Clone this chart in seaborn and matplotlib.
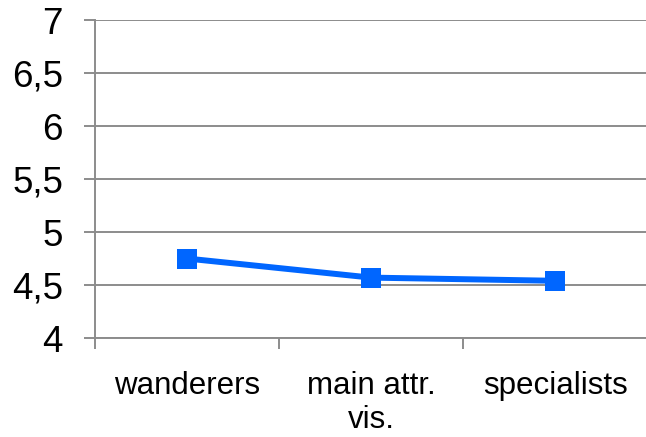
import matplotlib
matplotlib.use("Agg")
import matplotlib.pyplot as plt
import seaborn as sns
import pandas as pd

# --------- dados
groups = ["wanderers", "main attr.\nvis.", "specialists"]
scores = [4.75, 4.57, 4.54]
y_ticks = [4, 4.5, 5, 5.5, 6, 6.5, 7]
y_labels = ["4", "4,5", "5", "5,5", "6", "6,5", "7"]

df = pd.DataFrame({"group": groups, "score": scores})

sns.set_style("white")
plt.rcParams["font.family"] = ["Liberation Sans", "DejaVu Sans"]
plt.rcParams["text.color"] = "black"
plt.rcParams["xtick.color"] = "black"
plt.rcParams["ytick.color"] = "black"

grid_col = "#8c8c8c"
fig = plt.figure(figsize=(6.46, 4.37), dpi=100)
ax = fig.add_axes([0.147, 0.2265, 0.855, 0.7275])

sns.lineplot(data=df, x="group", y="score", ax=ax, color="#0066ff",
             linewidth=4.3, marker="s", markersize=14, markeredgewidth=0,
             sort=False)

ax.set_ylim(4, 7)
ax.set_xlim(-0.5, 2.5)
ax.set_yticks(y_ticks)
ax.set_yticklabels(y_labels, fontsize=26.5)
ax.yaxis.grid(True, color=grid_col, linewidth=1.4)
ax.set_axisbelow(True)

# ticks do eixo x nas fronteiras das categorias
ax.set_xticks(range(len(groups)))
ax.set_xticklabels(groups, fontsize=22.5, linespacing=1.18)
ax.set_xticks([-0.5, 0.5, 1.5, 2.5], minor=True)
ax.tick_params(axis="x", which="major", bottom=True, length=0, pad=24, labelcolor="black")
ax.tick_params(axis="x", which="minor", bottom=True, length=8, width=1.4, color=grid_col, direction="out")
ax.tick_params(axis="y", left=True, length=8, width=1.4, color=grid_col, pad=15,
               direction="out", labelcolor="black")
ax.set_xlabel("")
ax.set_ylabel("")

for side in ["top", "right"]:
    ax.spines[side].set_visible(False)
for side in ["left", "bottom"]:
    ax.spines[side].set_color(grid_col)
    ax.spines[side].set_linewidth(1.4)

plt.savefig("out.png", dpi=100)
